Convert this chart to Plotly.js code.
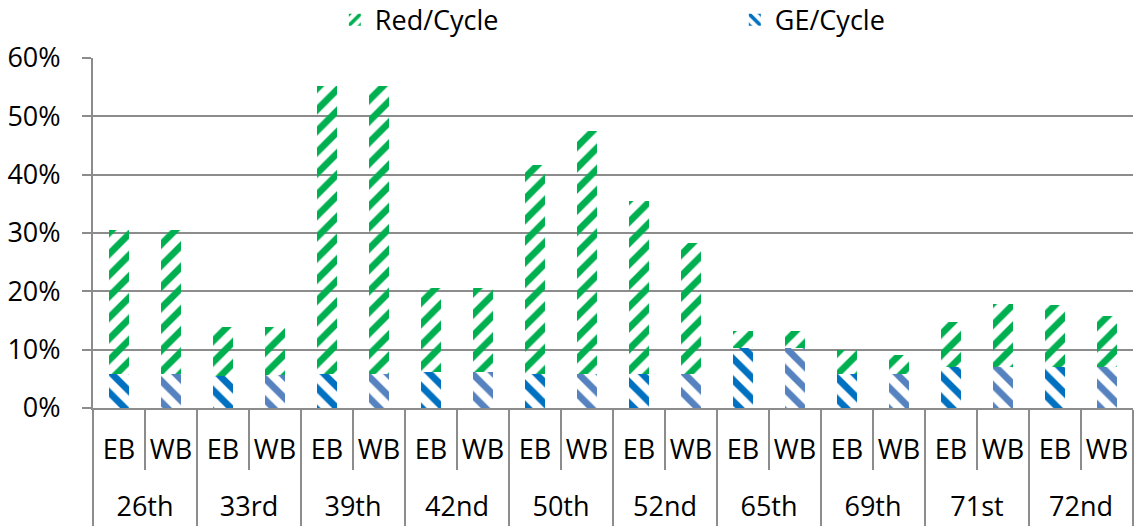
<!DOCTYPE html>
<html>
<head>
<meta charset="utf-8">
<script src="https://cdn.plot.ly/plotly-3.0.1.min.js"></script>
<style>
  html, body { margin: 0; padding: 0; background: #fff; }
  #chart { width: 1135px; height: 529px; }
</style>
</head>
<body>
<div id="chart"></div>
<script>
// sites and bound (two bars per site)
const sites = ['26th','26th','33rd','33rd','39th','39th','42nd','42nd','50th','50th',
               '52nd','52nd','65th','65th','69th','69th','71st','71st','72nd','72nd'];
const bounds = ['EB','WB','EB','WB','EB','WB','EB','WB','EB','WB',
                'EB','WB','EB','WB','EB','WB','EB','WB','EB','WB'];

// GE/Cycle share (bottom of each stack)
const geCycle = [0.059, 0.059, 0.055, 0.057, 0.059, 0.059, 0.061, 0.061, 0.059, 0.059,
                 0.058, 0.058, 0.103, 0.103, 0.059, 0.059, 0.070, 0.070, 0.070, 0.070];
// Red/Cycle share (stacked on top)
const redCycle = [0.246, 0.246, 0.084, 0.082, 0.493, 0.493, 0.144, 0.144, 0.357, 0.416,
                  0.297, 0.225, 0.029, 0.029, 0.040, 0.032, 0.078, 0.108, 0.106, 0.087];

const green = '#00b050';
const blueEB = '#0070c0';
const blueWB = '#5683c0';

const geColors = bounds.map(b => b === 'EB' ? blueEB : blueWB);
const redColors = bounds.map(() => green);

// inner labels get an empty second line so the site row sits lower
const innerLabels = bounds.map(b => b + '<br> ');

const geTrace = {
  type: 'bar',
  name: 'GE/Cycle',
  x: [sites, innerLabels],
  y: geCycle,
  marker: {
    color: geColors,
    line: { width: 0 },
    pattern: { shape: '\\', fillmode: 'replace', bgcolor: 'white', size: 15, solidity: 0.45 }
  }
};

const redTrace = {
  type: 'bar',
  name: 'Red/Cycle',
  x: [sites, innerLabels],
  y: redCycle,
  marker: {
    color: redColors,
    line: { width: 0 },
    pattern: { shape: '/', fillmode: 'replace', bgcolor: 'white', size: 15, solidity: 0.45 }
  }
};

const font = { family: 'Open Sans, sans-serif', size: 27, color: '#000' };

const layout = {
  width: 1135,
  height: 529,
  margin: { l: 93, r: 2, t: 58, b: 121 },
  paper_bgcolor: '#fff',
  plot_bgcolor: '#fff',
  font: font,
  barmode: 'stack',
  bargap: 0.6,
  showlegend: true,
  legend: {
    orientation: 'h',
    traceorder: 'reversed',
    xref: 'container',
    yref: 'container',
    x: 0.295,
    xanchor: 'left',
    y: 0.962,
    yanchor: 'middle',
    entrywidth: 355,
    entrywidthmode: 'pixels',
    font: font
  },
  xaxis: {
    type: 'multicategory',
    tickangle: 0,
    showgrid: false,
    showline: true,
    linecolor: '#8c8c8c',
    linewidth: 2,
    ticks: 'outside',
    tickson: 'boundaries',
    ticklen: 60,
    tickwidth: 2,
    tickcolor: '#8c8c8c',
    ticklabelstandoff: 17,
    showdividers: true,
    dividercolor: '#8c8c8c',
    dividerwidth: 2,
    tickfont: font
  },
  yaxis: {
    range: [0, 0.6],
    dtick: 0.1,
    tickformat: '.0%',
    showgrid: true,
    gridcolor: '#8c8c8c',
    gridwidth: 2,
    showline: true,
    linecolor: '#8c8c8c',
    linewidth: 2,
    ticks: 'outside',
    ticklen: 9,
    tickwidth: 2,
    tickcolor: '#8c8c8c',
    ticklabelstandoff: 16,
    zeroline: false,
    tickfont: font
  }
};

Plotly.newPlot('chart', [geTrace, redTrace], layout, { displayModeBar: false, staticPlot: true });
</script>
</body>
</html>
